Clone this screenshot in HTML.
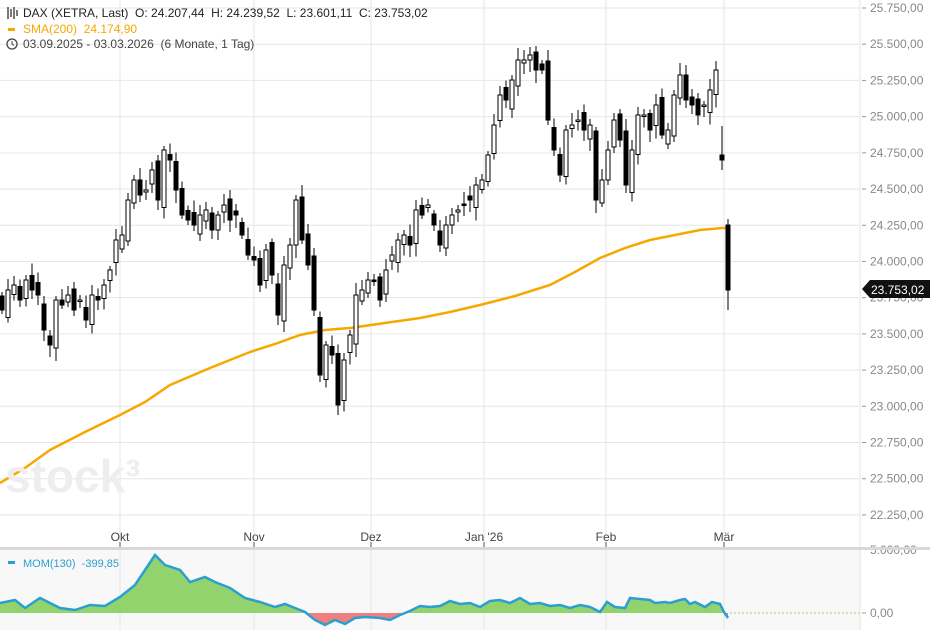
<!DOCTYPE html><html><head><meta charset="utf-8"><style>
body{margin:0;width:930px;height:630px;overflow:hidden;background:#fff;font-family:"Liberation Sans",sans-serif}
svg text{font-family:"Liberation Sans",sans-serif;white-space:pre}
</style></head><body>
<svg id="s" width="930" height="630" xmlns="http://www.w3.org/2000/svg">
<rect x="0" y="549" width="860" height="81" fill="#f8f8f8"/>
<g id="grid" stroke="#e6e6e6" stroke-width="1"></g>
<g id="ax" font-size="12" fill="#888"></g>
<polyline fill="none" stroke="#f5a800" stroke-width="2.5" points="0,483 25,468 50,450 85,432 120,415 145,402 170,385 210,368 250,352 275,344 300,335 325,330 350,328 385,323 420,318 450,312 480,305 515,296 550,285 575,272 600,258 625,248 650,240 675,235 700,230 722,228 730,228"/>
<g id="c"></g>
<text x="5" y="492" font-size="46" font-weight="bold" fill="#eeeeee">stock³</text>
<rect x="0" y="547" width="930" height="3" fill="#d8d8d8"/>
<line x1="730" y1="613" x2="860" y2="613" stroke="#9ccf72" stroke-dasharray="2,2"/>
<defs><clipPath id="up"><rect x="0" y="540" width="860" height="73"/></clipPath><clipPath id="dn"><rect x="0" y="613" width="860" height="20"/></clipPath></defs>
<g id="mom"></g>
<g font-size="12">
<text x="23" y="17" fill="#222" xml:space="preserve">DAX (XETRA, Last)  O: 24.207,44  H: 24.239,52  L: 23.601,11  C: 23.753,02</text>
<path d="M8 7v12M11 9v8M14 7v12M17 10v6" stroke="#222" stroke-width="1.2"/>
<rect x="8" y="28" width="7" height="3" fill="#f5a800"/>
<text x="23" y="33" fill="#f5a800" xml:space="preserve">SMA(200)  24.174,90</text>
<circle cx="12" cy="44" r="5" fill="none" stroke="#444" stroke-width="1.3"/><path d="M12 41v3l2 1.5" stroke="#444" fill="none"/>
<text x="23" y="48" fill="#444" xml:space="preserve">03.09.2025 - 03.03.2026  (6 Monate, 1 Tag)</text>
<rect x="8" y="561" width="7" height="3" fill="#2a9fd0"/>
<text x="23" y="567" font-size="11" fill="#2a9fd0" xml:space="preserve">MOM(130)  -399,85</text>
</g>
<path d="M862 289 l8 -9 h60 v18 h-60 z" fill="#111"/>
<text x="871" y="294" font-size="12" fill="#fff">23.753,02</text>
</svg>
<script>
const S="http://www.w3.org/2000/svg";
function el(p,t,a,txt){const e=document.createElementNS(S,t);for(const k in a)e.setAttribute(k,a[k]);if(txt)e.textContent=txt;document.getElementById(p).appendChild(e);return e;}
for(let i=0;i<=14;i++){const y=8+i*36.21;const p=25750-i*250;
el('grid','line',{x1:0,x2:860,y1:y,y2:y});
el('ax','line',{x1:862,x2:866,y1:y,y2:y,stroke:'#999'});
el('ax','text',{x:870,y:y+4},p.toLocaleString('de-DE',{minimumFractionDigits:2}));}
[120,254,371,484,606,724].forEach((x,i)=>{el('grid','line',{x1:x,x2:x,y1:0,y2:630});
el('ax','line',{x1:x,x2:x,y1:542,y2:547,stroke:'#555'});
el('ax','text',{x:x,y:541,'text-anchor':'middle',fill:'#444'},['Okt','Nov','Dez',"Jan '26",'Feb','Mär'][i]);});
el('grid','line',{x1:860,x2:860,y1:0,y2:630});
el('ax','text',{x:870,y:554},'5.000,00');el('ax','text',{x:870,y:617},'0,00');
el('ax','line',{x1:862,x2:866,y1:613,y2:613,stroke:'#999'});
const cl=[310,290,285,300,280,290,295,330,345,300,305,295,310,300,320,295,300,285,270,240,
235,200,180,195,190,170,200,150,160,190,215,220,225,215,210,230,215,205,220,215,235,255,
260,285,250,275,315,265,245,200,240,265,310,375,345,355,405,360,335,295,290,280,
280,300,270,255,240,235,245,210,215,205,225,245,225,215,210,205,200,185,180,
155,125,95,100,80,60,60,55,70,70,120,150,175,130,125,120,130,125,200,180,
150,120,140,185,150,115,115,130,105,135,130,95,75,100,105,115,105,90,70,160,290];
const n=cl.length, sp=(716-2)/(n-3);
let prev=305;
cl.forEach((c,i)=>{let x=2+i*sp;if(i==n-2)x=722;if(i==n-1)x=728;
let o=prev+((i*37)%13-6)*1.5;if(i==n-1)o=225;if(i==n-2)o=155;
const top=Math.min(o,c),bot=Math.max(o,c);let hi=top-4-(i*7%9),lo=bot+4+(i*11%10);
if(i==n-1){hi=219;lo=310;} if(i==n-2){hi=126;lo=170;}
el('c','line',{x1:x,x2:x,y1:hi,y2:lo,stroke:'#000','stroke-width':1});
const up=c<o;el('c','rect',{x:x-2,y:top,width:4,height:Math.max(bot-top,1.5),fill:up?'#fff':'#000',stroke:'#000','stroke-width':1});
prev=c;});
const m=[[0,603],[15,600],[25,608],[40,598],[60,608],[75,610],[90,605],[105,606],[120,597],[135,585],[145,570],[155,555],[165,565],[180,570],[190,582],[205,577],[215,582],[230,588],[245,598],[260,602],[275,607],[285,604],[295,608],[305,612],[315,620],[325,625],[335,620],[345,624],[355,618],[365,617],[380,618],[390,620],[400,615],[410,611],[420,606],[430,607],[440,606],[450,601],[460,604],[470,603],[480,607],[490,601],[500,600],[510,603],[520,598],[530,604],[540,603],[550,606],[560,605],[570,608],[580,605],[590,607],[600,612],[607,602],[615,607],[625,608],[630,598],[640,599],[650,600],[655,603],[665,602],[670,603],[680,600],[685,599],[690,604],[695,602],[705,607],[712,602],[720,604],[724,612],[728,618]];
const pts=m.map(p=>p.join(',')).join(' ');
const area='M0,613 L'+m.map(p=>p.join(',')).join(' L')+' L728,613 Z';
el('mom','path',{d:area,fill:'#92d36e','clip-path':'url(#up)'});
el('mom','path',{d:area,fill:'#f08080','clip-path':'url(#dn)'});
el('mom','polyline',{points:pts,fill:'none',stroke:'#2a9fd0','stroke-width':2.5});
</script>
</body></html>
